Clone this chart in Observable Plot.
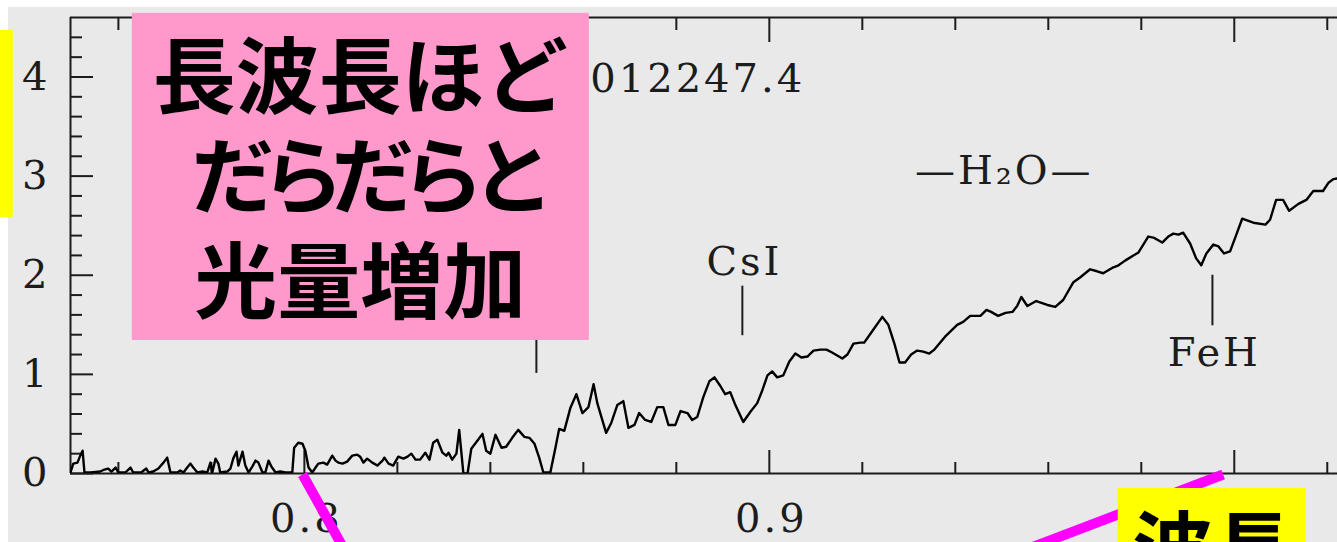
<!DOCTYPE html>
<html>
<head>
<meta charset="utf-8">
<script src="https://cdn.jsdelivr.net/npm/d3@7"></script>
<script src="https://cdn.jsdelivr.net/npm/@observablehq/plot@0.6"></script>
<style>
  html, body { margin: 0; padding: 0; background: #fff; overflow: hidden; }
  #stage { position: relative; width: 1337px; height: 542px; }
  #panel { position: absolute; left: 8px; top: 7px; right: 0; bottom: 0; background: #e9e9e9; }
  #stage svg { position: absolute; left: 0; top: 0; }
  g[font-family="DejaVu Serif"] { letter-spacing: 3px; }
  g[font-family="Noto Sans CJK JP, sans-serif"] { letter-spacing: -13px; }
</style>
</head>
<body>
<div id="stage"><div id="panel"></div></div>
<script>
// Spectrum: wavelength (µm) and relative flux
const wavelength = [
  0.7497, 0.7503, 0.7512, 0.7518, 0.7523, 0.7527, 0.7540, 0.7561, 0.7570, 0.7578,
  0.7585, 0.7594, 0.7600, 0.7615, 0.7626, 0.7632, 0.7649, 0.7660, 0.7665, 0.7675,
  0.7686, 0.7697, 0.7705, 0.7712, 0.7727, 0.7733, 0.7740, 0.7748, 0.7755, 0.7761,
  0.7770, 0.7781, 0.7791, 0.7798, 0.7802, 0.7809, 0.7815, 0.7819, 0.7834, 0.7841,
  0.7847, 0.7854, 0.7858, 0.7867, 0.7873, 0.7880, 0.7888, 0.7895, 0.7901, 0.7910,
  0.7916, 0.7923, 0.7929, 0.7938, 0.7948, 0.7959, 0.7974, 0.7978, 0.7987, 0.7996,
  0.8002, 0.8009, 0.8017, 0.8024, 0.8030, 0.8041, 0.8049, 0.8060, 0.8067, 0.8073,
  0.8082, 0.8092, 0.8103, 0.8114, 0.8120, 0.8127, 0.8135, 0.8146, 0.8157, 0.8168,
  0.8172, 0.8181, 0.8191, 0.8202, 0.8213, 0.8222, 0.8230, 0.8239, 0.8249, 0.8260,
  0.8269, 0.8277, 0.8286, 0.8297, 0.8305, 0.8310, 0.8318, 0.8327, 0.8333, 0.8342,
  0.8351, 0.8359, 0.8372, 0.8383, 0.8391, 0.8400, 0.8411, 0.8424, 0.8434, 0.8447,
  0.8460, 0.8473, 0.8484, 0.8495, 0.8505, 0.8514, 0.8529, 0.8540, 0.8548, 0.8559,
  0.8572, 0.8585, 0.8598, 0.8611, 0.8622, 0.8630, 0.8649, 0.8660, 0.8673, 0.8686,
  0.8697, 0.8710, 0.8720, 0.8733, 0.8746, 0.8759, 0.8772, 0.8783, 0.8798, 0.8809,
  0.8824, 0.8834, 0.8845, 0.8858, 0.8871, 0.8882, 0.8895, 0.8905, 0.8916, 0.8927,
  0.8944, 0.8959, 0.8974, 0.8985, 0.8996, 0.9006, 0.9017, 0.9030, 0.9043, 0.9056,
  0.9069, 0.9082, 0.9095, 0.9110, 0.9123, 0.9135, 0.9157, 0.9168, 0.9181, 0.9196,
  0.9204, 0.9219, 0.9243, 0.9256, 0.9269, 0.9280, 0.9292, 0.9305, 0.9318, 0.9331,
  0.9344, 0.9355, 0.9378, 0.9404, 0.9417, 0.9432, 0.9454, 0.9467, 0.9477, 0.9492,
  0.9508, 0.9523, 0.9533, 0.9542, 0.9555, 0.9574, 0.9598, 0.9615, 0.9632, 0.9654,
  0.9669, 0.9690, 0.9705, 0.9718, 0.9740, 0.9751, 0.9766, 0.9783, 0.9794, 0.9815,
  0.9826, 0.9845, 0.9858, 0.9869, 0.9880, 0.9890, 0.9905, 0.9918, 0.9929, 0.9940,
  0.9955, 0.9966, 0.9978, 0.9991, 1.0006, 1.0017, 1.0041, 1.0067, 1.0077, 1.0090,
  1.0105, 1.0118, 1.0138, 1.0155, 1.0170, 1.0191, 1.0202, 1.0213, 1.0228
];
const flux = [
  0.01, 0.10, 0.11, 0.18, 0.23, 0.01, 0.01, 0.02, 0.04, 0.05,
  0.02, 0.06, 0.01, 0.01, 0.06, 0.01, 0.01, 0.05, 0.01, 0.02,
  0.05, 0.11, 0.16, 0.01, 0.01, 0.03, 0.01, 0.06, 0.10, 0.06,
  0.01, 0.02, 0.01, 0.11, 0.01, 0.15, 0.10, 0.01, 0.02, 0.05,
  0.15, 0.22, 0.08, 0.22, 0.08, 0.01, 0.07, 0.13, 0.11, 0.01,
  0.01, 0.13, 0.07, 0.01, 0.02, 0.01, 0.01, 0.26, 0.31, 0.30,
  0.23, 0.06, 0.01, 0.06, 0.10, 0.11, 0.09, 0.18, 0.13, 0.11,
  0.10, 0.12, 0.18, 0.19, 0.17, 0.11, 0.15, 0.11, 0.08, 0.13,
  0.16, 0.10, 0.08, 0.17, 0.15, 0.17, 0.20, 0.14, 0.14, 0.21,
  0.14, 0.31, 0.34, 0.21, 0.18, 0.21, 0.14, 0.20, 0.44, 0.00,
  0.00, 0.25, 0.33, 0.40, 0.23, 0.20, 0.39, 0.26, 0.27, 0.36,
  0.44, 0.37, 0.36, 0.30, 0.16, 0.01, 0.01, 0.26, 0.45, 0.43,
  0.66, 0.80, 0.61, 0.67, 0.90, 0.71, 0.41, 0.51, 0.69, 0.73,
  0.46, 0.49, 0.61, 0.54, 0.52, 0.67, 0.67, 0.49, 0.49, 0.63,
  0.61, 0.54, 0.57, 0.77, 0.93, 0.97, 0.88, 0.80, 0.82, 0.69,
  0.52, 0.62, 0.71, 0.84, 0.99, 1.03, 0.97, 0.99, 1.13, 1.21,
  1.17, 1.18, 1.24, 1.25, 1.25, 1.22, 1.16, 1.20, 1.31, 1.32,
  1.32, 1.42, 1.58, 1.50, 1.31, 1.12, 1.12, 1.20, 1.24, 1.23,
  1.21, 1.25, 1.38, 1.50, 1.53, 1.59, 1.59, 1.65, 1.63, 1.59,
  1.62, 1.63, 1.69, 1.78, 1.69, 1.74, 1.70, 1.68, 1.75, 1.93,
  1.98, 2.06, 2.04, 2.02, 2.08, 2.10, 2.15, 2.20, 2.23, 2.39,
  2.38, 2.33, 2.39, 2.42, 2.41, 2.43, 2.32, 2.17, 2.10, 2.22,
  2.31, 2.29, 2.22, 2.24, 2.43, 2.57, 2.53, 2.51, 2.56, 2.76,
  2.76, 2.65, 2.72, 2.76, 2.85, 2.85, 2.93, 2.97, 2.98
];

// Axis extents and ticks
const xDomain = [0.7497, 1.0222];
const yDomain = [0, 4.6];
const xMajorTicks = [0.8, 0.9, 1.0];
const xMinorTicks = [0.76, 0.78, 0.82, 0.84, 0.86, 0.88, 0.92, 0.94, 0.96, 0.98, 1.02];
const yMajorTicks = [0, 1, 2, 3, 4];
const yMinorTicks = [0.2, 0.4, 0.6, 0.8, 1.2, 1.4, 1.6, 1.8, 2.2, 2.4, 2.6, 2.8, 3.2, 3.4, 3.6, 3.8, 4.2, 4.4];

// Absorption feature markers
const markerWl = [0.8499, 0.8942, 0.9953];
const markerLow = [1.01, 1.39, 1.49];
const markerHigh = [1.70, 1.89, 2.00];

// Feature and object labels
const featureText = ["CsI", "FeH", "—H₂O—"];
const featureWl = [0.8942, 0.9953, 0.9501];
const featureFlux = [2.13, 1.21, 3.05];
const objectText = ["012247.4"];
const objectWl = [0.8615];
const objectFlux = [3.976];

// Call-out boxes, pointers and captions
const noteLines = ["長波長ほど", "だらだらと", "光量増加"];
const noteWl = [0.8120, 0.8120, 0.8120];
const noteFlux = [3.966, 2.957, 1.897];
const noteBox = {x1: 0.7630, x2: 0.8613, y1: 1.342, y2: 4.642};
const sideBox = {x1: 0.7340, x2: 0.7374, y1: 2.583, y2: 4.470};
const axisBox = {x1: 0.97505, x2: 1.01548, y1: -0.151, y2: -0.95};
const axisNote = ["波長"];
const axisNoteWl = [0.99527];
const axisNoteFlux = [-0.80];
const pointerX1 = [0.7996, 0.9976];
const pointerY1 = [-0.01, -0.01];
const pointerX2 = [0.8099, 0.9490];
const pointerY2 = [-0.878, -0.878];

const spectrum = wavelength.map((w, i) => ({w, f: flux[i]}));
const markers = markerWl.map((w, i) => ({w, lo: markerLow[i], hi: markerHigh[i]}));
const features = featureText.map((t, i) => ({t, w: featureWl[i], f: featureFlux[i]}));
const objects = objectText.map((t, i) => ({t, w: objectWl[i], f: objectFlux[i]}));
const notes = noteLines.map((t, i) => ({t, w: noteWl[i], f: noteFlux[i]}));
const axisNotes = axisNote.map((t, i) => ({t, w: axisNoteWl[i], f: axisNoteFlux[i]}));
const pointers = pointerX1.map((x1, i) => ({x1, y1: pointerY1[i], x2: pointerX2[i], y2: pointerY2[i]}));

const ink = "#1c1c1c";
const serif = "DejaVu Serif";
const cjk = "Noto Sans CJK JP";
const cjkKana = "Noto Sans CJK JP, sans-serif"; // kana line, set tighter
const blank = () => "";

const chart = Plot.plot({
  width: 1337,
  height: 542,
  marginLeft: 70,
  marginRight: 0,
  marginTop: 17,
  marginBottom: 69,
  style: {background: "transparent", color: ink},
  x: {domain: xDomain, label: null},
  y: {domain: yDomain, label: null},
  marks: [
    // frame: left, bottom, top
    Plot.ruleX([xDomain[0]], {stroke: ink, strokeWidth: 2}),
    Plot.ruleY([yDomain[0], yDomain[1]], {stroke: ink, strokeWidth: 2}),

    // inward ticks
    Plot.axisY({ticks: yMajorTicks, tickSize: -23, tickFormat: blank, strokeWidth: 2, label: null}),
    Plot.axisY({ticks: yMinorTicks, tickSize: -12, tickFormat: blank, strokeWidth: 2, label: null}),
    Plot.axisX({anchor: "bottom", ticks: xMajorTicks, tickSize: -23, tickFormat: blank, strokeWidth: 2, label: null}),
    Plot.axisX({anchor: "bottom", ticks: xMinorTicks, tickSize: -11, tickFormat: blank, strokeWidth: 2, label: null}),
    Plot.axisX({anchor: "top", ticks: xMajorTicks, tickSize: -24, tickFormat: blank, strokeWidth: 2, label: null}),
    Plot.axisX({anchor: "top", ticks: xMinorTicks, tickSize: -12, tickFormat: blank, strokeWidth: 2, label: null}),

    // tick labels
    Plot.axisY({ticks: yMajorTicks, tickSize: 0, tickPadding: 20, tickFormat: d3.format("d"),
      fontSize: 40, fontFamily: serif, label: null}),
    Plot.axisX({anchor: "bottom", ticks: xMajorTicks, tickSize: 0, tickPadding: 30, dx: 2,
      tickFormat: d3.format(".1f"), fontSize: 40, fontFamily: serif, label: null}),

    // spectrum
    Plot.line(spectrum, {x: "w", y: "f", stroke: "#000", strokeWidth: 2.4, strokeLinejoin: "round", clip: true}),

    // feature markers and labels
    Plot.ruleX(markers, {x: "w", y1: "lo", y2: "hi", stroke: ink, strokeWidth: 2}),
    Plot.text(features, {x: "w", y: "f", text: "t", dx: 2, fontSize: 40, fontFamily: serif, fill: ink}),
    Plot.text(objects, {x: "w", y: "f", text: "t", textAnchor: "start", fontSize: 40, fontFamily: serif, fill: ink}),

    // pointers
    Plot.link(pointers, {x1: "x1", y1: "y1", x2: "x2", y2: "y2", stroke: "#ff00ff", strokeWidth: 10, strokeLinecap: "butt"}),

    // call-out boxes
    Plot.rect([noteBox], {x1: "x1", x2: "x2", y1: "y1", y2: "y2", fill: "#ff99cc"}),
    Plot.text(notes.filter((d, i) => i !== 1), {x: "w", y: "f", text: "t", fontSize: 83, fontWeight: 700, fontFamily: cjk, fill: "#000"}),
    Plot.text(notes.filter((d, i) => i === 1), {x: "w", y: "f", text: "t", dx: 6, fontSize: 83, fontWeight: 700, fontFamily: cjkKana, fill: "#000"}),
    Plot.rect([sideBox], {x1: "x1", x2: "x2", y1: "y1", y2: "y2", fill: "#ffff00"}),
    Plot.rect([axisBox], {x1: "x1", x2: "x2", y1: "y1", y2: "y2", fill: "#ffff00"}),
    Plot.text(axisNotes, {x: "w", y: "f", text: "t", fontSize: 80, fontWeight: 700, fontFamily: cjk, fill: "#000"})
  ]
});

document.getElementById("stage").appendChild(chart);
</script>
</body>
</html>
